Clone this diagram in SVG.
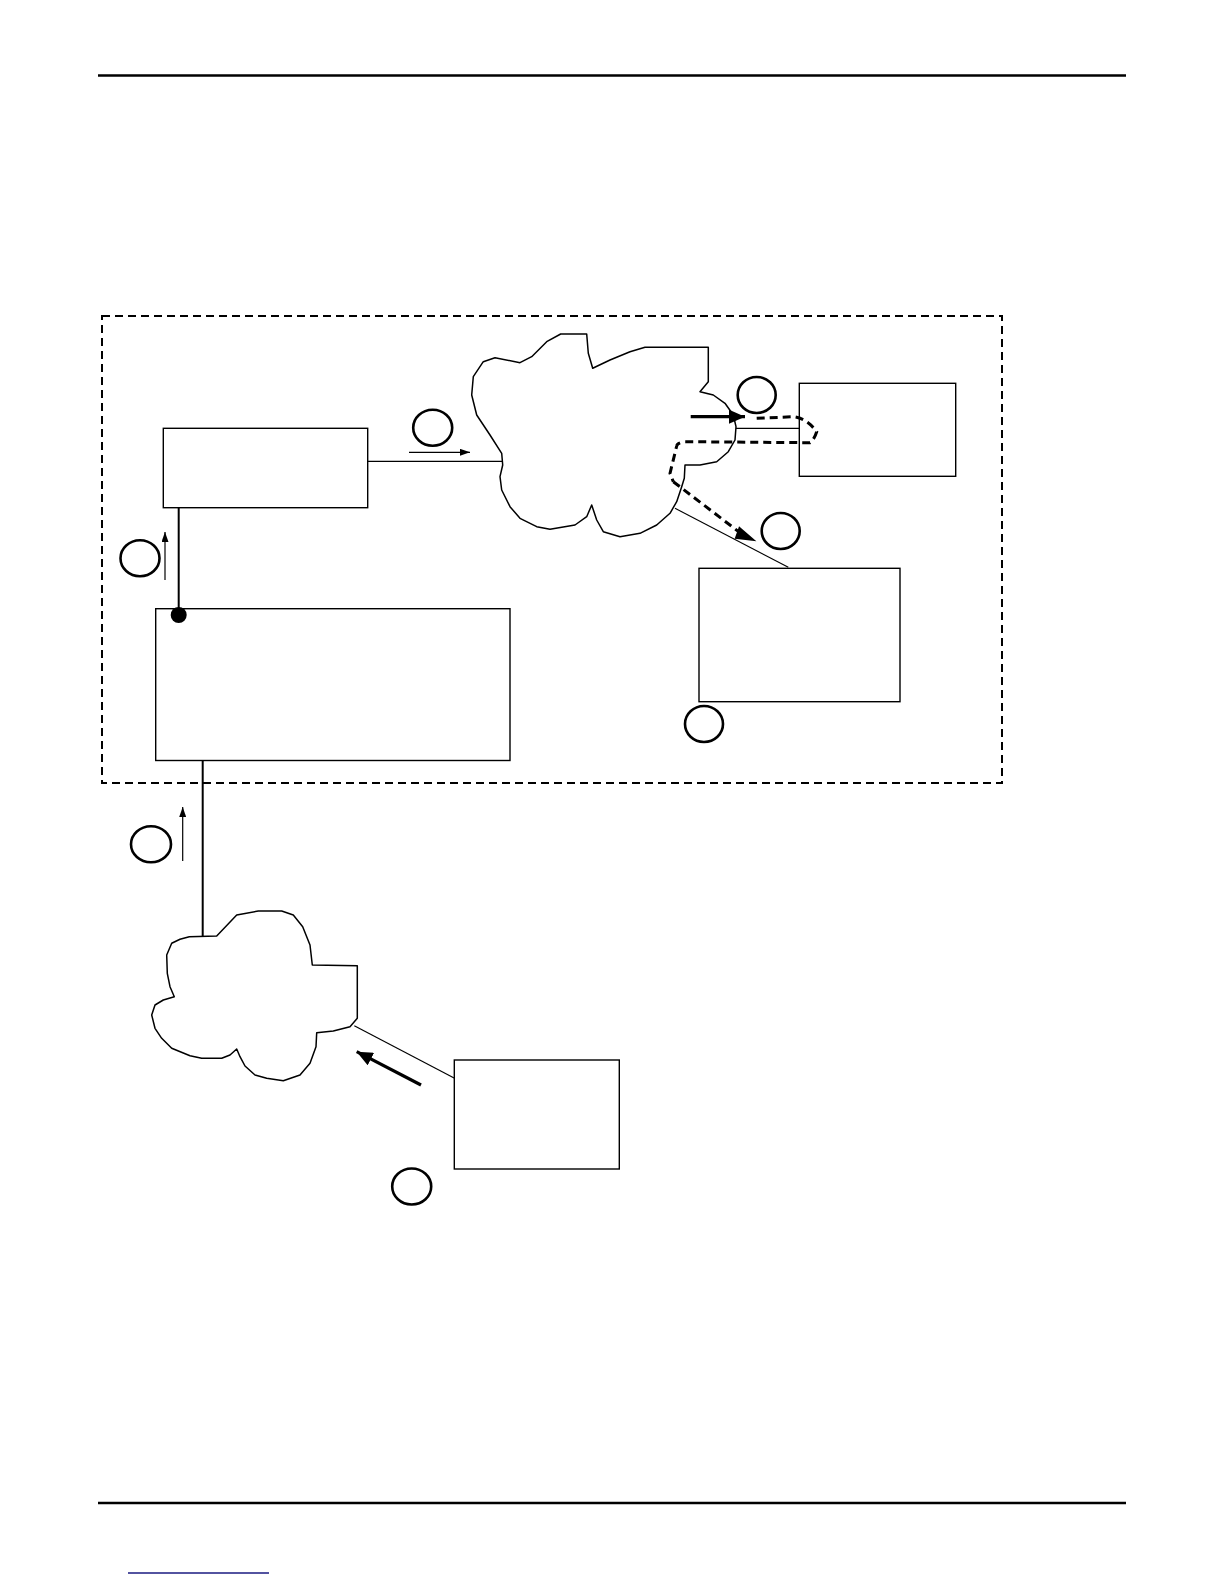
<svg xmlns="http://www.w3.org/2000/svg" width="1224" height="1584" viewBox="0 0 1224 1584">
<style>
.box{fill:#fff;stroke:#000;stroke-width:1.4}
.cloud{fill:#fff;stroke:#000;stroke-width:1.5;stroke-linejoin:round}
.lbl{fill:none;stroke:#000;stroke-width:2.6}
.thin{stroke:#000;stroke-width:1.2;fill:none}
.med{stroke:#000;stroke-width:2;fill:none}
.thick{stroke:#000;stroke-width:3.2;fill:none}
.dash{stroke:#000;stroke-width:3;fill:none;stroke-dasharray:8 5}
</style>
<defs>
<marker id="ahs" markerUnits="userSpaceOnUse" markerWidth="10" markerHeight="7" refX="10" refY="3.5" orient="auto"><path d="M0,0 L10,3.5 L0,7 z" fill="#000"/></marker>
<marker id="ahl" markerUnits="userSpaceOnUse" markerWidth="16" markerHeight="14" refX="16" refY="7" orient="auto"><path d="M0,0 L16,7 L0,14 z" fill="#000"/></marker>
</defs>
<rect width="1224" height="1584" fill="#fff"/>
<g id="page">
<line x1="98" y1="75.5" x2="1126" y2="75.5" stroke="#000" stroke-width="2.6"/>
<line x1="98" y1="1503" x2="1126" y2="1503" stroke="#000" stroke-width="2.6"/>
<line x1="128" y1="1573" x2="269" y2="1573" stroke="#1a1a80" stroke-width="1.4"/>
</g>
<g id="boundary"><rect x="102" y="316" width="900" height="467" fill="none" stroke="#000" stroke-width="2" stroke-dasharray="8 5"/></g>
<g id="connectors">
<line class="thin" x1="367.7" y1="461.3" x2="508.3" y2="461.3"/>
<line class="med" x1="178.7" y1="507.7" x2="178.7" y2="615"/>
<line class="med" x1="202.7" y1="760.5" x2="202.7" y2="940"/>
<line class="thin" x1="354.3" y1="1025.7" x2="456" y2="1079"/>
<line class="thin" x1="736" y1="428.3" x2="803.3" y2="428.3"/>
<line class="thin" x1="675" y1="508.3" x2="788.3" y2="567.3"/>
</g>
<g id="cloud1"><path class="cloud" d="M560.7,334 L586.7,334 L588.3,353.3 L592.7,368.3 L610,360 L630,351.7 L645,347.3 L708.3,347.3 L708.3,381.7 L700,391.7 L713.3,395 L725,403.3 L733.3,415 L736,426.7 L735,440 L728.3,451.7 L716.7,461.7 L700,465 L685,465 L684.3,478.3 L681.7,486.7 L676.7,501.7 L670,513.3 L656.7,525 L640,533.3 L620,536.7 L603.3,531.7 L596.7,520 L591.7,505 L586.7,516.7 L575,525 L550,529.3 L536.7,526.7 L520,518.3 L510,506.7 L501.7,490 L500,476.7 L502.7,465 L501.7,453.3 L490,435 L476.7,415 L471.7,395 L473.3,376.7 L483.3,361.7 L495,357.7 L520,362.7 L531.7,356.7 L546.7,341.7 Z"/></g>
<g id="cloud2"><path class="cloud" d="M216.7,936 L236.7,915 L258.3,911 L281.7,911 L293.3,915 L302.7,926.7 L310,945 L312.3,965 L357.3,965.7 L357.3,1018.3 L350,1026.7 L333.3,1031 L316.7,1032.7 L316,1046.7 L310,1063.3 L300,1075 L283.3,1080.7 L266.7,1078.3 L255,1075 L245,1066 L240,1056.7 L236.7,1049 L230,1055 L221.7,1058.3 L201.7,1058.3 L190,1055.7 L171.7,1048.3 L161.7,1038.3 L155,1028.3 L151.7,1015 L155,1005 L163.3,1000 L174.3,996.7 L170,986.7 L167.3,973.3 L166.7,955 L171.7,943.3 L180,939.3 L189.3,936.7 Z"/></g>
<g id="box1"><rect class="box" x="163.3" y="428.3" width="204.4" height="79.4"/></g>
<g id="box2"><rect class="box" x="155.7" y="608.7" width="354.3" height="151.8"/></g>
<g id="box3"><rect class="box" x="799.3" y="383.3" width="156.4" height="93"/></g>
<g id="box4"><rect class="box" x="454.3" y="1060" width="165" height="109"/></g>
<g id="box5"><rect class="box" x="699" y="568.3" width="201" height="133.4"/></g>
<g id="dot"><circle cx="178.7" cy="615" r="8" fill="#000"/></g>
<g id="arrows">
<line class="thin" x1="409" y1="452.3" x2="470" y2="452.3" marker-end="url(#ahs)"/>
<line class="thin" x1="165" y1="580" x2="165" y2="532" marker-end="url(#ahs)"/>
<line class="thin" x1="182.7" y1="861" x2="182.7" y2="807" marker-end="url(#ahs)"/>
<line class="thick" x1="690.7" y1="416.7" x2="745" y2="416.7" marker-end="url(#ahl)"/>
<line class="thick" x1="421" y1="1085" x2="356.7" y2="1051.7" marker-end="url(#ahl)"/>
<path class="dash" d="M756.7,418.3 L793.3,416.7 Q806.7,418.3 816.7,431.7 Q814,440 810,442.7 L685,441.7 Q677,443 676.7,446 L670,473.3 L673.3,481.7"/>
<line class="dash" x1="673.3" y1="481.7" x2="743" y2="535" stroke-dasharray="8 5"/>
<path d="M739.5,528 L753.3,540 L736,538 Z" fill="#000" stroke="#000" stroke-width="2"/>
</g>
<g id="labels">
<ellipse class="lbl" cx="432.7" cy="427.7" rx="19.5" ry="18"/>
<ellipse class="lbl" cx="140" cy="558.3" rx="19.5" ry="18"/>
<ellipse class="lbl" cx="151" cy="844.3" rx="20" ry="18"/>
<ellipse class="lbl" cx="756.7" cy="395" rx="19" ry="18"/>
<ellipse class="lbl" cx="780.7" cy="531" rx="19" ry="18"/>
<ellipse class="lbl" cx="704" cy="724" rx="19" ry="18"/>
<ellipse class="lbl" cx="411.7" cy="1186.5" rx="19.5" ry="18"/>
</g>
</svg>
